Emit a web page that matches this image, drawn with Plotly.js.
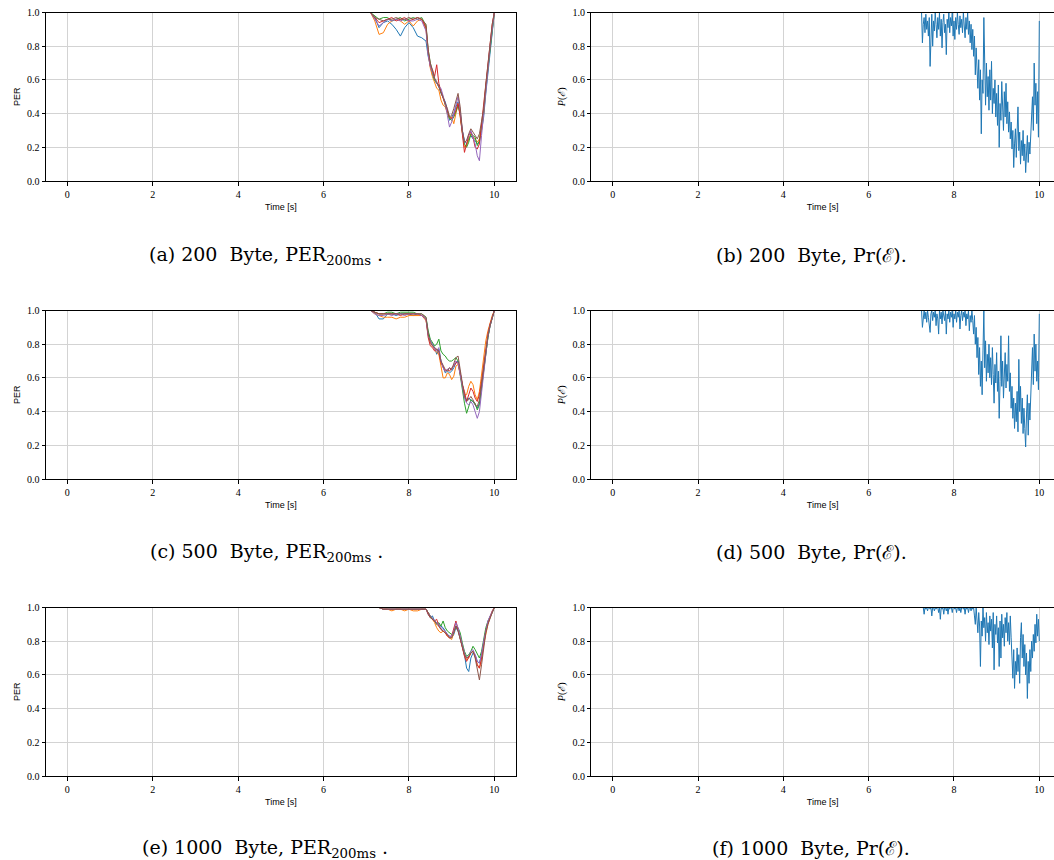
<!DOCTYPE html>
<html>
<head>
<meta charset="utf-8">
<script src="https://cdn.plot.ly/plotly-3.0.1.min.js"></script>
<style>html,body{margin:0;padding:0;background:#fff;}#chart{width:1054px;height:860px;}</style>
</head>
<body>
<div id="chart"></div>
<script>
// ---------------- DATA ----------------
const SERIES_COLORS = ['#1f77b4', '#ff7f0e', '#2ca02c', '#d62728', '#9467bd', '#8c564b'];
const X_TICKS = [0, 2, 4, 6, 8, 10];
const Y_TICKS = [0, 0.2, 0.4, 0.6, 0.8, 1.0];

// (a) 200 Byte, PER_200ms  (6 runs)
const T_A = [7.1,7.2,7.3,7.4,7.5,7.6,7.7,7.8,7.9,8.0,8.1,8.2,8.3,8.4,8.45,8.5,8.55,8.6,8.65,8.7,8.75,8.8,8.85,8.9,8.95,9.0,9.05,9.1,9.15,9.2,9.25,9.3,9.35,9.4,9.45,9.5,9.55,9.6,9.65,9.7,9.75,9.8,9.85,9.9,9.95,10.0];
const A1 = [1.0,0.97,0.91,0.94,0.95,0.93,0.90,0.86,0.91,0.94,0.91,0.86,0.85,0.83,0.74,0.68,0.63,0.60,0.58,0.56,0.52,0.49,0.47,0.42,0.36,0.38,0.40,0.44,0.47,0.40,0.30,0.24,0.22,0.25,0.27,0.25,0.24,0.22,0.23,0.30,0.38,0.52,0.64,0.79,0.91,1.0];
const A2 = [1.0,0.95,0.87,0.88,0.93,0.95,0.96,0.95,0.93,0.95,0.92,0.95,0.96,0.90,0.76,0.67,0.62,0.58,0.55,0.54,0.48,0.45,0.44,0.40,0.37,0.38,0.34,0.40,0.46,0.38,0.28,0.20,0.21,0.24,0.28,0.26,0.25,0.23,0.25,0.31,0.40,0.55,0.66,0.80,0.92,1.0];
const A3 = [1.0,0.98,0.96,0.97,0.97,0.95,0.96,0.97,0.95,0.96,0.97,0.96,0.97,0.92,0.78,0.70,0.64,0.60,0.58,0.57,0.53,0.50,0.45,0.41,0.37,0.36,0.38,0.41,0.45,0.40,0.29,0.22,0.20,0.23,0.28,0.27,0.26,0.21,0.24,0.33,0.41,0.56,0.68,0.80,0.92,1.0];
const A4 = [1.0,0.97,0.94,0.95,0.96,0.97,0.95,0.96,0.97,0.95,0.96,0.97,0.96,0.91,0.77,0.68,0.66,0.62,0.69,0.58,0.53,0.49,0.46,0.42,0.38,0.37,0.39,0.42,0.46,0.39,0.26,0.17,0.22,0.27,0.29,0.26,0.20,0.19,0.22,0.34,0.42,0.57,0.67,0.81,0.93,1.0];
const A5 = [1.0,0.96,0.92,0.94,0.96,0.95,0.96,0.95,0.96,0.95,0.95,0.96,0.95,0.89,0.75,0.68,0.64,0.61,0.58,0.56,0.55,0.50,0.46,0.39,0.32,0.35,0.40,0.46,0.50,0.42,0.30,0.23,0.24,0.27,0.30,0.26,0.22,0.15,0.12,0.27,0.39,0.53,0.66,0.80,0.92,1.0];
const A6 = [1.0,0.97,0.96,0.95,0.96,0.96,0.97,0.96,0.96,0.97,0.96,0.97,0.96,0.93,0.78,0.70,0.66,0.61,0.59,0.56,0.52,0.49,0.47,0.43,0.38,0.39,0.43,0.48,0.52,0.44,0.30,0.23,0.24,0.28,0.31,0.29,0.27,0.25,0.28,0.35,0.43,0.57,0.68,0.81,0.93,1.0];

// (c) 500 Byte, PER_200ms  (6 runs)
const T_C = [0,7.1,7.2,7.3,7.4,7.5,7.6,7.7,7.8,7.9,8.0,8.1,8.2,8.3,8.4,8.45,8.5,8.55,8.6,8.65,8.7,8.75,8.8,8.85,8.9,8.95,9.0,9.05,9.1,9.15,9.2,9.25,9.3,9.35,9.4,9.45,9.5,9.55,9.6,9.65,9.7,9.75,9.8,9.85,9.9,9.95,10.0];
const C1 = [1.0,1.0,0.99,0.95,0.95,0.98,0.98,0.97,0.98,0.98,0.98,0.97,0.98,0.97,0.95,0.87,0.82,0.80,0.78,0.74,0.77,0.70,0.66,0.63,0.64,0.63,0.64,0.66,0.69,0.70,0.63,0.56,0.49,0.46,0.48,0.47,0.46,0.44,0.42,0.45,0.55,0.65,0.76,0.84,0.91,0.96,1.0];
const C2 = [1.0,1.0,0.98,0.97,0.96,0.96,0.96,0.95,0.96,0.96,0.97,0.97,0.97,0.97,0.94,0.86,0.81,0.79,0.77,0.75,0.74,0.66,0.60,0.60,0.63,0.62,0.59,0.61,0.67,0.68,0.62,0.55,0.50,0.50,0.55,0.58,0.56,0.50,0.47,0.52,0.62,0.73,0.82,0.88,0.93,0.97,1.0];
const C3 = [1.0,1.0,0.99,0.98,0.98,0.99,0.99,0.98,0.99,0.99,0.99,0.99,0.98,0.98,0.96,0.88,0.83,0.81,0.79,0.80,0.83,0.76,0.74,0.73,0.71,0.70,0.70,0.71,0.72,0.70,0.62,0.52,0.45,0.39,0.43,0.47,0.46,0.45,0.41,0.44,0.54,0.64,0.75,0.84,0.91,0.96,1.0];
const C4 = [1.0,1.0,0.99,0.98,0.98,0.98,0.98,0.98,0.97,0.98,0.98,0.98,0.98,0.97,0.95,0.84,0.79,0.78,0.76,0.77,0.75,0.69,0.66,0.64,0.65,0.64,0.66,0.67,0.69,0.69,0.63,0.56,0.52,0.46,0.50,0.54,0.52,0.48,0.46,0.50,0.58,0.68,0.78,0.86,0.92,0.96,1.0];
const C5 = [1.0,1.0,0.98,0.97,0.97,0.98,0.97,0.98,0.98,0.97,0.98,0.98,0.98,0.97,0.95,0.85,0.82,0.79,0.77,0.76,0.78,0.70,0.66,0.64,0.65,0.66,0.65,0.68,0.70,0.69,0.62,0.55,0.48,0.45,0.44,0.46,0.44,0.40,0.36,0.40,0.52,0.64,0.76,0.85,0.91,0.96,1.0];
const C6 = [1.0,1.0,0.99,0.98,0.98,0.98,0.98,0.98,0.98,0.98,0.98,0.98,0.98,0.98,0.96,0.86,0.81,0.79,0.78,0.77,0.76,0.70,0.67,0.65,0.64,0.66,0.65,0.69,0.72,0.73,0.64,0.55,0.49,0.47,0.47,0.49,0.47,0.44,0.43,0.47,0.56,0.66,0.77,0.85,0.91,0.96,1.0];

// (e) 1000 Byte, PER_200ms  (6 runs)
const T_E = [7.3,7.4,7.5,7.6,7.7,7.8,7.9,8.0,8.1,8.2,8.3,8.4,8.45,8.5,8.55,8.6,8.65,8.7,8.75,8.8,8.85,8.9,8.95,9.0,9.05,9.1,9.15,9.2,9.25,9.3,9.35,9.4,9.45,9.5,9.55,9.6,9.65,9.7,9.75,9.8,9.85,9.9,9.95,10.0];
const E1 = [1.0,0.99,0.99,0.99,0.99,0.99,0.99,0.99,0.99,0.99,0.99,0.99,0.96,0.94,0.95,0.92,0.91,0.90,0.89,0.88,0.86,0.84,0.83,0.82,0.84,0.88,0.86,0.82,0.77,0.72,0.64,0.62,0.70,0.73,0.72,0.68,0.67,0.72,0.80,0.86,0.91,0.94,0.97,1.0];
const E2 = [1.0,0.99,0.99,0.98,0.99,0.99,0.98,0.99,0.98,0.98,0.99,0.99,0.97,0.95,0.93,0.91,0.88,0.86,0.85,0.86,0.85,0.83,0.82,0.81,0.85,0.89,0.87,0.82,0.77,0.72,0.69,0.70,0.73,0.74,0.71,0.66,0.64,0.69,0.78,0.85,0.90,0.94,0.97,1.0];
const E3 = [1.0,0.99,0.99,0.99,0.99,0.99,0.99,0.99,0.99,0.99,0.99,0.99,0.97,0.95,0.93,0.92,0.90,0.91,0.89,0.92,0.88,0.86,0.85,0.84,0.86,0.89,0.88,0.85,0.79,0.74,0.71,0.72,0.74,0.77,0.75,0.72,0.70,0.74,0.82,0.88,0.92,0.95,0.98,1.0];
const E4 = [1.0,0.99,0.99,0.99,0.99,0.99,0.99,0.99,0.99,0.99,0.99,0.99,0.96,0.94,0.93,0.92,0.93,0.89,0.87,0.86,0.85,0.83,0.82,0.83,0.88,0.92,0.87,0.82,0.76,0.71,0.68,0.71,0.73,0.74,0.71,0.66,0.64,0.70,0.79,0.86,0.91,0.95,0.98,1.0];
const E5 = [1.0,0.99,0.99,0.99,0.99,0.99,0.99,0.99,0.99,0.99,0.99,0.99,0.97,0.95,0.94,0.92,0.91,0.90,0.88,0.87,0.86,0.84,0.83,0.83,0.86,0.91,0.88,0.83,0.77,0.73,0.70,0.71,0.74,0.75,0.72,0.68,0.67,0.72,0.80,0.87,0.92,0.95,0.98,1.0];
const E6 = [1.0,0.99,0.99,0.99,0.99,0.99,0.99,0.99,0.99,0.99,0.99,0.99,0.97,0.94,0.93,0.92,0.90,0.89,0.87,0.86,0.85,0.84,0.82,0.82,0.85,0.89,0.86,0.81,0.76,0.72,0.70,0.71,0.73,0.74,0.70,0.64,0.57,0.66,0.77,0.85,0.90,0.94,0.97,1.0];

// Right column: P(E), sampled every 0.02 s
const SAMPLE_STEP = 0.02;
const B_START = 7.24;
const P_B = [1.0,0.82,0.93,0.97,0.88,0.99,0.90,0.95,0.86,0.97,
  0.68,0.92,0.99,0.80,0.95,0.89,1.0,0.93,0.85,0.97,
  0.90,1.0,0.86,0.96,0.79,0.94,0.99,0.88,0.93,0.75,
  0.96,0.91,1.0,0.88,0.97,0.92,1.0,0.86,0.95,0.84,
  0.97,0.90,1.0,0.93,0.87,0.98,0.91,0.96,0.88,1.0,
  0.92,0.85,0.97,0.90,1.0,0.87,0.95,0.82,0.93,0.78,
  0.90,0.74,0.86,0.63,0.79,0.70,0.55,0.72,0.48,0.66,
  0.28,0.60,0.52,0.97,0.58,0.45,0.70,0.50,0.62,0.42,
  0.66,0.48,0.71,0.40,0.55,0.46,0.60,0.38,0.52,0.33,
  0.57,0.20,0.46,0.36,0.59,0.41,0.30,0.53,0.38,0.58,
  0.34,0.47,0.29,0.41,0.25,0.35,0.19,0.30,0.08,0.22,
  0.31,0.14,0.26,0.44,0.18,0.29,0.10,0.24,0.15,0.30,
  0.12,0.22,0.05,0.19,0.27,0.11,0.23,0.16,0.25,0.36,
  0.50,0.30,0.70,0.45,0.58,0.34,0.53,0.26,0.95];

const D_LEAD_T = 0;      // trace already at 1.0 from t = 0
const D_LEAD_V = 1.0;
const D_START = 7.24;
const P_D = [1.0,0.90,0.97,1.0,0.95,0.99,0.93,1.0,0.96,0.92,
  0.87,0.98,1.0,0.94,0.99,0.96,1.0,0.91,0.98,0.95,
  0.86,1.0,0.95,0.99,0.92,1.0,0.97,0.94,1.0,0.86,
  0.98,0.95,1.0,0.93,0.99,0.96,1.0,0.90,0.98,0.95,
  1.0,0.93,0.99,0.96,1.0,0.89,0.97,1.0,0.94,0.99,
  0.96,1.0,0.91,0.98,0.95,1.0,0.88,0.97,0.93,1.0,
  0.94,0.86,0.97,0.80,0.90,0.72,0.84,0.62,0.78,0.55,
  0.70,0.50,0.76,1.0,0.66,0.82,0.58,0.74,0.63,0.80,
  0.60,0.72,0.56,0.78,0.62,0.45,0.68,0.57,0.75,0.52,
  0.64,0.36,0.58,0.85,0.55,0.70,0.48,0.62,0.75,0.54,
  0.68,0.58,0.85,0.52,0.63,0.42,0.55,0.36,0.48,0.30,
  0.45,0.34,0.52,0.28,0.71,0.40,0.55,0.33,0.48,0.27,
  0.42,0.30,0.19,0.38,0.50,0.26,0.45,0.35,0.55,0.62,
  0.78,0.56,0.86,0.64,0.80,0.58,0.70,0.53,0.98];

const F_START = 7.28;
const P_F = [1.0,0.96,1.0,0.99,1.0,0.98,1.0,1.0,0.99,1.0,
  0.95,1.0,1.0,0.98,1.0,0.99,1.0,1.0,0.97,1.0,
  0.93,1.0,0.99,1.0,0.96,1.0,1.0,0.98,1.0,0.96,
  1.0,0.99,1.0,1.0,0.97,1.0,1.0,0.99,1.0,0.97,
  1.0,1.0,0.98,1.0,0.97,1.0,1.0,0.99,1.0,0.96,
  1.0,0.99,1.0,0.97,1.0,1.0,0.98,1.0,0.99,1.0,
  0.95,0.90,1.0,0.93,0.85,0.97,0.89,0.65,0.92,0.83,
  1.0,0.88,0.94,0.80,0.97,0.85,0.91,0.78,0.95,0.86,
  0.93,0.76,0.97,0.63,0.90,0.84,0.95,0.79,0.88,0.65,
  0.92,0.70,0.96,0.82,0.90,0.77,0.94,0.85,0.97,0.80,
  0.91,0.78,0.95,0.82,0.70,0.58,0.75,0.52,0.68,0.60,
  0.76,0.62,0.72,0.55,0.82,0.91,0.70,0.84,0.65,0.78,
  0.60,0.73,0.46,0.68,0.55,0.75,0.62,0.80,0.70,0.84,
  0.74,0.90,0.79,0.96,0.83,0.93,0.80];

const Y_TITLE_LEFT = 'PER';
const Y_TITLE_RIGHT = '<i>P</i>(<i>ℰ</i>)';
const X_TITLE = 'Time [s]';
const CAPTIONS = [
  '(a) 200  Byte, PER<sub>200ms</sub> .',
  '(b) 200  Byte, Pr(ℰ).',
  '(c) 500  Byte, PER<sub>200ms</sub> .',
  '(d) 500  Byte, Pr(ℰ).',
  '(e) 1000  Byte, PER<sub>200ms</sub> .',
  '(f) 1000  Byte, Pr(ℰ).'
];

// ---------------- BUILD ----------------
function grid(start, n) {
  const out = [];
  for (let i = 0; i < n; i++) out.push(+(start + i * SAMPLE_STEP).toFixed(2));
  return out;
}

const traces = [];
function addRuns(t, runs, ax) {
  runs.forEach((v, i) => traces.push({
    x: t, y: v, type: 'scatter', mode: 'lines',
    line: {color: SERIES_COLORS[i], width: 1},
    xaxis: 'x' + ax, yaxis: 'y' + ax, showlegend: false, hoverinfo: 'skip'
  }));
}
addRuns(T_A, [A1, A2, A3, A4, A5, A6], '');
addRuns(T_C, [C1, C2, C3, C4, C5, C6], '3');
addRuns(T_E, [E1, E2, E3, E4, E5, E6], '5');

function addSingle(t, v, ax) {
  traces.push({x: t, y: v, type: 'scatter', mode: 'lines',
    line: {color: SERIES_COLORS[0], width: 1},
    xaxis: 'x' + ax, yaxis: 'y' + ax, showlegend: false, hoverinfo: 'skip'});
}
addSingle(grid(B_START, P_B.length), P_B, '2');
addSingle([D_LEAD_T].concat(grid(D_START, P_D.length)), [D_LEAD_V].concat(P_D), '4');
addSingle(grid(F_START, P_F.length), P_F, '6');

const W = 1054, H = 860;
const LEFT_DOM = [46 / W, 515.7 / W];
const RIGHT_DOM = [591.4 / W, 1];
const ROWS = [[1 - 181 / H, 1 - 12.5 / H], [1 - 479 / H, 1 - 310.5 / H], [1 - 776 / H, 1 - 607.5 / H]];

const tickFont = {family: 'Liberation Serif, DejaVu Serif, serif', size: 10, color: '#000'};
const sansFont = {family: 'Liberation Sans, Arial, sans-serif', size: 9, color: '#000'};

function xAxis(dom, anchor, right) {
  return {
    domain: dom, anchor: anchor,
    range: right ? [-0.5, (W - 612.7) / 42.66] : [-0.5, 10.5],
    tickvals: X_TICKS, ticktext: X_TICKS.map(String),
    showgrid: true, gridcolor: '#d3d3d3', gridwidth: 1,
    zeroline: false, showline: true, linecolor: '#000', linewidth: 1, mirror: true,
    ticks: 'outside', ticklen: 3.5, tickwidth: 1, tickcolor: '#000',
    tickfont: tickFont,
    title: {text: X_TITLE, font: sansFont, standoff: 5}
  };
}
function yAxis(dom, anchor, right) {
  return {
    domain: dom, anchor: anchor, range: [0, 1],
    tickvals: Y_TICKS, ticktext: Y_TICKS.map(v => v.toFixed(1)),
    showgrid: true, gridcolor: '#d3d3d3', gridwidth: 1,
    zeroline: false, showline: true, linecolor: '#000', linewidth: 1, mirror: !right,
    ticks: 'outside', ticklen: 3.5, tickwidth: 1, tickcolor: '#000',
    tickfont: tickFont,
    title: right ? {text: Y_TITLE_RIGHT, font: {family: 'Liberation Serif, DejaVu Serif, serif', size: 10, color: '#000'}, standoff: 4}
                 : {text: Y_TITLE_LEFT, font: sansFont, standoff: 4}
  };
}

const layout = {
  width: W, height: H,
  margin: {l: 0, r: 0, t: 0, b: 0, pad: 0},
  paper_bgcolor: '#fff', plot_bgcolor: '#fff',
  showlegend: false,
  xaxis: xAxis(LEFT_DOM, 'y', false), yaxis: yAxis(ROWS[0], 'x', false),
  xaxis2: xAxis(RIGHT_DOM, 'y2', true), yaxis2: yAxis(ROWS[0], 'x2', true),
  xaxis3: xAxis(LEFT_DOM, 'y3', false), yaxis3: yAxis(ROWS[1], 'x3', false),
  xaxis4: xAxis(RIGHT_DOM, 'y4', true), yaxis4: yAxis(ROWS[1], 'x4', true),
  xaxis5: xAxis(LEFT_DOM, 'y5', false), yaxis5: yAxis(ROWS[2], 'x5', false),
  xaxis6: xAxis(RIGHT_DOM, 'y6', true), yaxis6: yAxis(ROWS[2], 'x6', true),
  annotations: []
};

const capPos = [[266, 255], [811, 255], [266, 552], [811, 552], [265, 848], [811, 848]];
CAPTIONS.forEach((txt, i) => {
  layout.annotations.push({
    text: txt, xref: 'paper', yref: 'paper',
    x: capPos[i][0] / W, y: 1 - capPos[i][1] / H,
    xanchor: 'center', yanchor: 'middle', showarrow: false,
    font: {family: 'DejaVu Serif, serif', size: 19, color: '#000'}
  });
});

Plotly.newPlot('chart', traces, layout, {staticPlot: true, displayModeBar: false});
</script>
</body>
</html>
